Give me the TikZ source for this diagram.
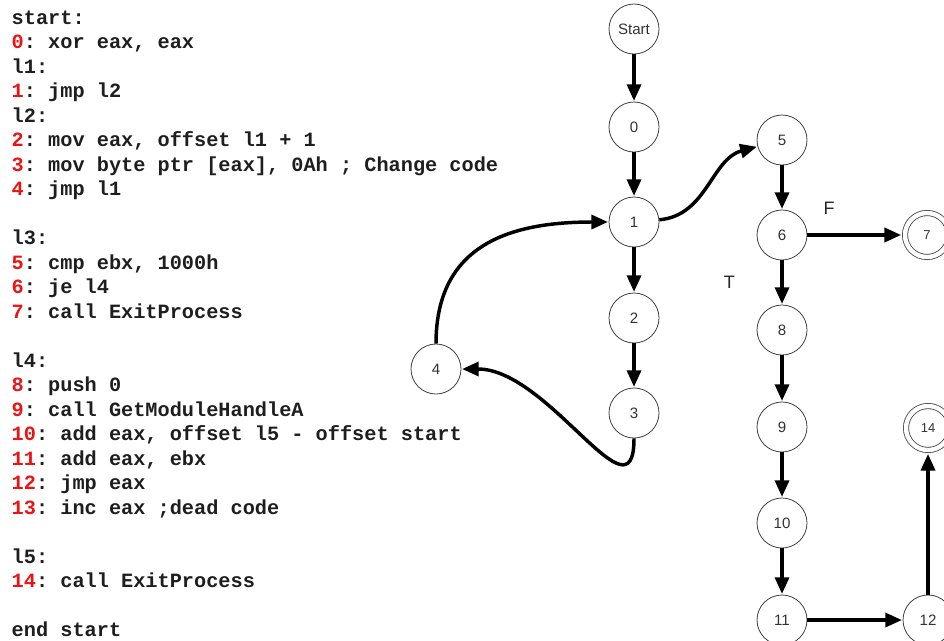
\documentclass[tikz,border=0pt]{standalone}
\usepackage{fontspec}
\setmainfont{Liberation Sans}
\setmonofont{Liberation Mono}
\usetikzlibrary{arrows.meta, automata}

\definecolor{addrred}{RGB}{235,20,20}
\definecolor{codegray}{RGB}{30,30,30}
\newcommand{\lnum}[1]{\textcolor{addrred}{#1}}

\begin{document}
\begin{tikzpicture}[x=0.75pt, y=-0.75pt, ->, >={Triangle[length=12.5pt, width=10.5pt]}, shorten >=0.5pt, line width=2.6pt,
		every state/.style={draw=black!75, line width=0.6pt, fill=white, minimum size=37.5pt, inner sep=0pt, text=black!80, font=\fontsize{11.3}{13}\selectfont},
		accepting/.style={double, double distance=3.3pt, minimum size=33pt, outer sep=2.4pt, font=\fontsize{9.7}{11}\selectfont},
		code/.style={anchor=base west, inner sep=0pt, text=codegray, font=\ttfamily\bfseries\fontsize{15.2}{18}\selectfont},
		branch/.style={inner sep=0pt, text=black!85, font=\fontsize{13.5}{16}\selectfont}]
		\useasboundingbox (0,0) rectangle (944,640);

		% listing
		\foreach \i/\txt in {1/{start:}, 2/{\lnum{0}: xor eax, eax}, 3/{l1:}, 4/{\lnum{1}: jmp l2}, 5/{l2:},
				6/{\lnum{2}: mov eax, offset l1 + 1}, 7/{\lnum{3}: mov byte ptr [eax], 0Ah ; Change code}, 8/{\lnum{4}: jmp l1},
				10/{l3:}, 11/{\lnum{5}: cmp ebx, 1000h}, 12/{\lnum{6}: je l4}, 13/{\lnum{7}: call ExitProcess},
				15/{l4:}, 16/{\lnum{8}: push 0}, 17/{\lnum{9}: call GetModuleHandleA}, 18/{\lnum{10}: add eax, offset l5 - offset start},
				19/{\lnum{11}: add eax, ebx}, 20/{\lnum{12}: jmp eax}, 21/{\lnum{13}: inc eax ;dead code},
				23/{l5:}, 24/{\lnum{14}: call ExitProcess}, 26/{end start}}
			\node[code] (line\i) at (10, {24.3+24.5*(\i-1)}) {\txt};

		% control flow graph
		\node[state] (s) at (634, 29) {Start};
		\node[state] (0) at (634, 127) {0};
		\node[state] (1) at (634, 222) {1};
		\node[state] (2) at (634, 318) {2};
		\node[state] (3) at (634, 413) {3};
		\node[state] (4) at (436, 369) {4};
		\node[state] (5) at (782, 140) {5};
		\node[state] (6) at (782, 235) {6};
		\node[state, accepting] (7) at (927, 235) {7};
		\node[state] (8) at (782, 330) {8};
		\node[state] (9) at (782, 427) {9};
		\node[state] (10) at (782, 523) {10};
		\node[state] (11) at (782, 620) {11};
		\node[state] (12) at (928, 620) {12};
		\node[state, accepting] (14) at (928, 428) {14};

		\path (s) edge (0)
			(0) edge (1)
			(1) edge (2)
			(2) edge (3)
			(3) edge[out=-90, in=0, looseness=1.2] (4)
			(4) edge[out=90, in=180, looseness=1.2] (1)
			(1) edge[out=5, in=195] (5)
			(5) edge (6)
			(6) edge node[pos=.23, above=14pt, branch] {F} (7)
			(6) edge node[left=34pt, branch] {T} (8)
			(8) edge (9)
			(9) edge (10)
			(10) edge (11)
			(11) edge (12)
			(12) edge (14);
	\end{tikzpicture}
\end{document}
